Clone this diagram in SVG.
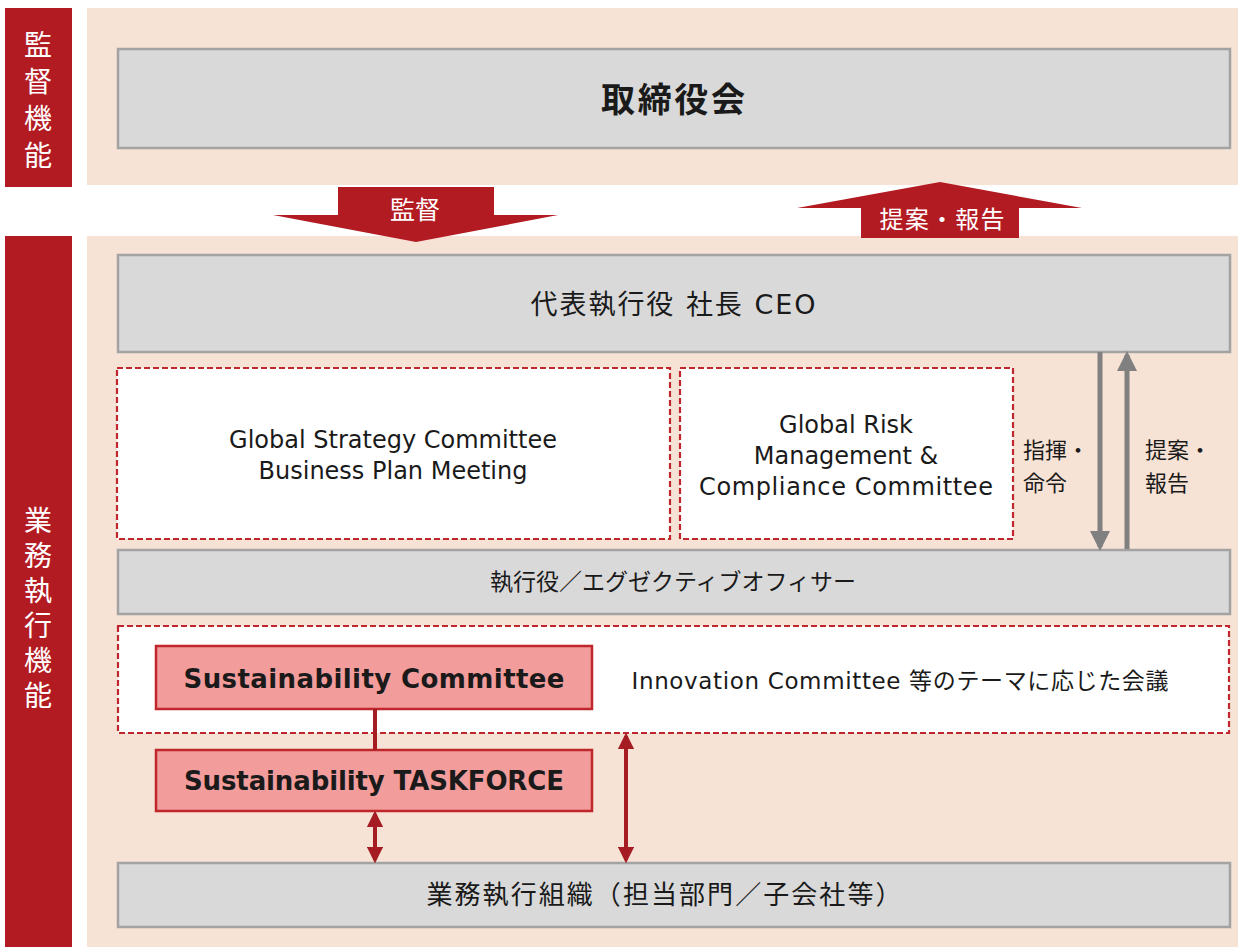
<svg xmlns="http://www.w3.org/2000/svg" width="1238" height="947" viewBox="0 0 1238 947">
<style>
.band{fill:#f7e3d5}
.lab{fill:#b31b23}
.labt{fill:#fff;font-family:"Noto Sans CJK JP",sans-serif;font-size:28px;writing-mode:vertical-rl}
.gbox{fill:#d9d9d9;stroke:#a3a3a3;stroke-width:2.5}
.dbox{fill:#fff;stroke:#c0272d;stroke-width:2.2;stroke-dasharray:6,3}
.pbox{fill:#f29c9b;stroke:#c0272d;stroke-width:2.5}
.t{font-family:"DejaVu Sans","Noto Sans CJK JP",sans-serif;fill:#1a1a1a;text-anchor:middle}
.jp{font-family:"Noto Sans CJK JP",sans-serif;fill:#1a1a1a;text-anchor:middle}
.wt{font-family:"Noto Sans CJK JP",sans-serif;fill:#fff;text-anchor:middle}
.red{stroke:#a51d23;stroke-width:4;fill:none}
.gray{stroke:#808080;stroke-width:5;fill:none}
</style>
<defs>
<marker id="rh" viewBox="0 0 10 10" refX="8" refY="5" markerWidth="4.2" markerHeight="4.2" orient="auto-start-reverse"><path d="M0,0 L10,5 L0,10 z" fill="#a51d23"/></marker>
<marker id="gh" viewBox="0 0 10 10" refX="8" refY="5" markerWidth="4" markerHeight="4" orient="auto-start-reverse"><path d="M0,0 L10,5 L0,10 z" fill="#808080"/></marker>
</defs>
<rect width="1238" height="947" fill="#fff"/>
<g id="bands">
<rect class="band" x="87" y="8" width="1151" height="177"/>
<rect class="band" x="87" y="236" width="1151" height="711"/>
</g>
<g id="label-supervision">
<rect class="lab" x="5" y="8" width="67" height="179"/>
<text class="labt" x="38" y="30" style="letter-spacing:9px">監督機能</text>
</g>
<g id="label-execution">
<rect class="lab" x="5" y="236" width="67" height="711"/>
<text class="labt" x="38" y="506" style="letter-spacing:7px">業務執行機能</text>
</g>
<g id="board">
<rect class="gbox" x="118" y="49" width="1112" height="99"/>
<text class="jp" x="673" y="112" textLength="144" style="font-size:34px;font-weight:bold">取締役会</text>
</g>
<g id="arrow-supervise">
<path d="M338,187 L494,187 L494,215 L558,215 L416,242 L273,215 L338,215 z" fill="#b31b23"/>
<text class="wt" x="415" y="219" style="font-size:25px">監督</text>
</g>
<g id="arrow-report">
<path d="M940,182 L1082,208 L1019,208 L1019,238 L861,238 L861,208 L797,208 z" fill="#b31b23"/>
<text class="wt" x="942" y="228" textLength="125" style="font-size:24px">提案・報告</text>
</g>
<g id="ceo">
<rect class="gbox" x="118" y="255" width="1112" height="97"/>
<text class="t" x="673" y="314" textLength="285" style="font-size:27px">代表執行役  社長 CEO</text>
</g>
<g id="strategy">
<rect class="dbox" x="117" y="368" width="553" height="171"/>
<text class="t" x="393" y="448" style="font-size:24px">Global Strategy Committee</text>
<text class="t" x="393" y="479" style="font-size:24px">Business Plan Meeting</text>
</g>
<g id="risk">
<rect class="dbox" x="680" y="368" width="333" height="171"/>
<text class="t" x="846" y="433" style="font-size:24px">Global Risk</text>
<text class="t" x="846" y="464" style="font-size:24px">Management &amp;</text>
<text class="t" x="846" y="495" style="font-size:24px" textLength="294">Compliance Committee</text>
</g>
<g id="officers">
<rect class="gbox" x="118" y="550" width="1112" height="64"/>
<text class="t" x="673" y="590" style="font-size:23px">執行役／エグゼクティブオフィサー</text>
</g>
<g id="theme-meetings">
<rect class="dbox" x="118" y="626" width="1111" height="107"/>
<text class="t" x="900" y="689" textLength="537" style="font-size:23px">Innovation Committee 等のテーマに応じた会議</text>
</g>
<g id="sus-committee">
<rect class="pbox" x="156" y="646" width="436" height="63"/>
<text class="t" x="374" y="688" textLength="381" style="font-size:26px;font-weight:bold">Sustainability Committee</text>
</g>
<g id="sus-taskforce">
<rect class="pbox" x="156" y="750" width="436" height="61"/>
<text class="t" x="374" y="790" textLength="380" style="font-size:26px;font-weight:bold">Sustainability TASKFORCE</text>
</g>
<g id="business-org">
<rect class="gbox" x="118" y="863" width="1112" height="64"/>
<text class="t" x="664" y="904" textLength="475" style="font-size:26px">業務執行組織（担当部門／子会社等）</text>
</g>
<g id="connectors">
<line class="gray" x1="1100" y1="352" x2="1100" y2="547" marker-end="url(#gh)"/>
<line class="gray" x1="1127" y1="549" x2="1127" y2="355" marker-end="url(#gh)"/>
<line class="red" x1="375" y1="709" x2="375" y2="750"/>
<line class="red" x1="375" y1="814" x2="375" y2="860" marker-start="url(#rh)" marker-end="url(#rh)"/>
<line class="red" x1="626" y1="736" x2="626" y2="860" marker-start="url(#rh)" marker-end="url(#rh)"/>
<text class="jp" x="1023" y="458" style="font-size:22px;text-anchor:start">指揮・</text>
<text class="jp" x="1023" y="491" style="font-size:22px;text-anchor:start">命令</text>
<text class="jp" x="1145" y="458" style="font-size:22px;text-anchor:start">提案・</text>
<text class="jp" x="1145" y="491" style="font-size:22px;text-anchor:start">報告</text>
</g>
</svg>
